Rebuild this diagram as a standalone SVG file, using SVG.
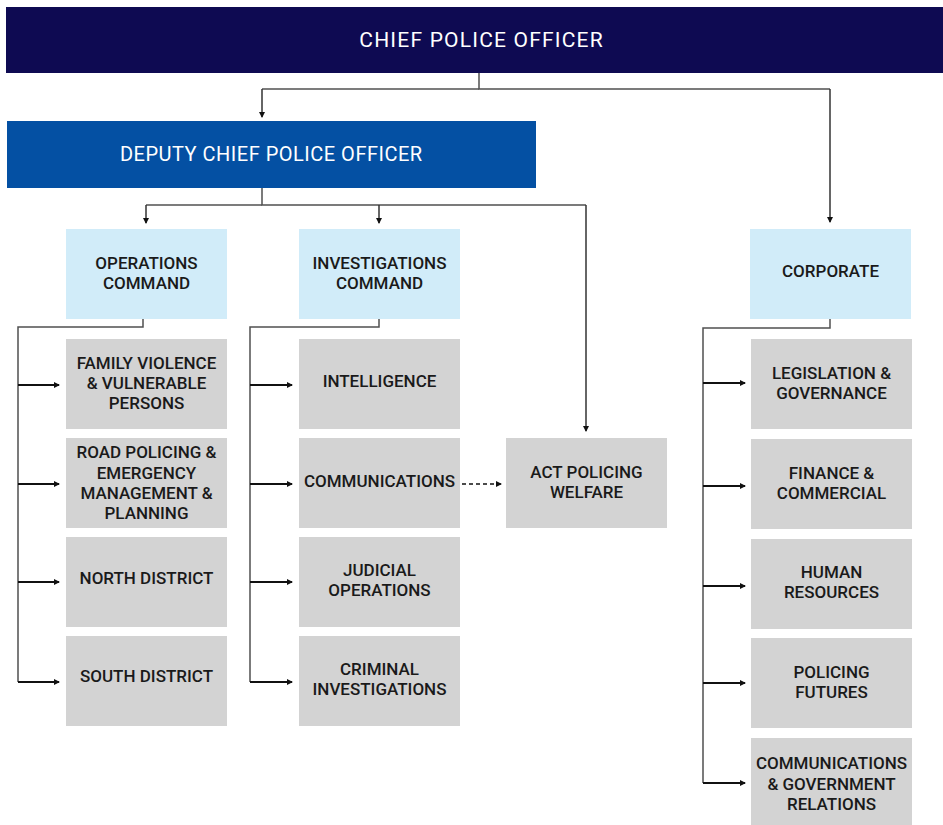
<svg xmlns="http://www.w3.org/2000/svg" width="943" height="825" viewBox="0 0 943 825">
  <style>
    .lbl { font-family: Roboto, "Liberation Sans", sans-serif; font-size: 17px; font-weight: 500; fill: #1a1a1a; text-anchor: middle; }
    .head { font-family: Roboto, "Liberation Sans", sans-serif; font-weight: 400; fill: #ffffff; text-anchor: middle; }
    .cmd { fill: #d1ecf9; }
    .unit { fill: #d3d3d3; }
    .trunk { fill: none; stroke: #505050; stroke-width: 1.5; }
    .stub { fill: none; stroke: #111111; stroke-width: 2; marker-end: url(#tip); }
    .drop { fill: none; stroke: #333333; stroke-width: 1.5; marker-end: url(#tip); }
    .dash { fill: none; stroke: #111111; stroke-width: 1.5; stroke-dasharray: 4 3; marker-end: url(#tip); }
  </style>
  <defs>
    <marker id="tip" viewBox="0 0 6 6" refX="5" refY="3" markerWidth="6" markerHeight="6" markerUnits="userSpaceOnUse" orient="auto">
      <path d="M0,0 L6,3 L0,6 z" fill="#111111"/>
    </marker>
  </defs>

  <rect width="943" height="825" fill="#ffffff"/>

  <!-- connectors -->
  <g id="connectors">
    <!-- chief to deputy and corporate -->
    <path class="trunk" d="M479,73 V89 H830"/>
    <path class="trunk" d="M479,89 H262"/>
    <path class="drop" d="M262,89 V117"/>
    <path class="drop" d="M830,89 V222"/>
    <!-- deputy to commands and welfare -->
    <path class="trunk" d="M262,188 V205 H586"/>
    <path class="trunk" d="M262,205 H146"/>
    <path class="drop" d="M146,205 V223"/>
    <path class="drop" d="M379,205 V223"/>
    <path class="drop" d="M586,205 V431"/>
    <!-- operations command -->
    <path class="trunk" d="M143,319 V327 H18 V682"/>
    <path class="stub" d="M18,385 H59"/>
    <path class="stub" d="M18,484 H59"/>
    <path class="stub" d="M18,582 H59"/>
    <path class="stub" d="M18,682 H59"/>
    <!-- investigations command -->
    <path class="trunk" d="M379,319 V327 H250 V682"/>
    <path class="stub" d="M250,385 H292"/>
    <path class="stub" d="M250,484 H292"/>
    <path class="stub" d="M250,582 H292"/>
    <path class="stub" d="M250,682 H292"/>
    <!-- corporate -->
    <path class="trunk" d="M830,319 V328 H703 V783"/>
    <path class="stub" d="M703,383 H745"/>
    <path class="stub" d="M703,486 H745"/>
    <path class="stub" d="M703,586 H745"/>
    <path class="stub" d="M703,683 H745"/>
    <path class="stub" d="M703,783 H745"/>
    <!-- dotted link communications to welfare -->
    <path class="dash" d="M462,484 H501"/>
  </g>

  <g id="chief">
    <rect x="6" y="7" width="937" height="66" fill="#0e0a52"/>
    <text class="head" x="481.6" y="47" font-size="21" letter-spacing="1.2">CHIEF POLICE OFFICER</text>
  </g>

  <g id="deputy">
    <rect x="7" y="121" width="529" height="67" fill="#0450a3"/>
    <text class="head" x="271.3" y="161" font-size="20" letter-spacing="0.5">DEPUTY CHIEF POLICE OFFICER</text>
  </g>

  <g id="operations">
    <rect class="cmd" x="66" y="229" width="161" height="90"/>
    <text class="lbl" x="146.5" y="269">OPERATIONS</text>
    <text class="lbl" x="146.5" y="289">COMMAND</text>
  </g>

  <g id="investigations">
    <rect class="cmd" x="299" y="229" width="161" height="90"/>
    <text class="lbl" x="379.5" y="269">INVESTIGATIONS</text>
    <text class="lbl" x="379.5" y="289">COMMAND</text>
  </g>

  <g id="corporate">
    <rect class="cmd" x="750" y="229" width="161" height="90"/>
    <text class="lbl" x="830.5" y="277">CORPORATE</text>
  </g>

  <!-- operations units -->
  <g id="family-violence">
    <rect class="unit" x="66" y="339" width="161" height="90"/>
    <text class="lbl" x="146.5" y="369">FAMILY VIOLENCE</text>
    <text class="lbl" x="146.5" y="389">&amp; VULNERABLE</text>
    <text class="lbl" x="146.5" y="409">PERSONS</text>
  </g>
  <g id="road-policing">
    <rect class="unit" x="66" y="438" width="161" height="90"/>
    <text class="lbl" x="146.5" y="458">ROAD POLICING &amp;</text>
    <text class="lbl" x="146.5" y="479">EMERGENCY</text>
    <text class="lbl" x="146.5" y="499">MANAGEMENT &amp;</text>
    <text class="lbl" x="146.5" y="519">PLANNING</text>
  </g>
  <g id="north-district">
    <rect class="unit" x="66" y="537" width="161" height="90"/>
    <text class="lbl" x="146.5" y="584">NORTH DISTRICT</text>
  </g>
  <g id="south-district">
    <rect class="unit" x="66" y="636" width="161" height="90"/>
    <text class="lbl" x="146.5" y="682">SOUTH DISTRICT</text>
  </g>

  <!-- investigations units -->
  <g id="intelligence">
    <rect class="unit" x="299" y="339" width="161" height="90"/>
    <text class="lbl" x="379.5" y="387">INTELLIGENCE</text>
  </g>
  <g id="communications">
    <rect class="unit" x="299" y="438" width="161" height="90"/>
    <text class="lbl" x="379.5" y="487">COMMUNICATIONS</text>
  </g>
  <g id="judicial-operations">
    <rect class="unit" x="299" y="537" width="161" height="90"/>
    <text class="lbl" x="379.5" y="576">JUDICIAL</text>
    <text class="lbl" x="379.5" y="596">OPERATIONS</text>
  </g>
  <g id="criminal-investigations">
    <rect class="unit" x="299" y="636" width="161" height="90"/>
    <text class="lbl" x="379.5" y="675">CRIMINAL</text>
    <text class="lbl" x="379.5" y="695">INVESTIGATIONS</text>
  </g>

  <g id="act-policing-welfare">
    <rect class="unit" x="506" y="438" width="161" height="90"/>
    <text class="lbl" x="586.5" y="478">ACT POLICING</text>
    <text class="lbl" x="586.5" y="498">WELFARE</text>
  </g>

  <!-- corporate units -->
  <g id="legislation">
    <rect class="unit" x="751" y="339" width="161" height="90"/>
    <text class="lbl" x="831.5" y="379">LEGISLATION &amp;</text>
    <text class="lbl" x="831.5" y="399">GOVERNANCE</text>
  </g>
  <g id="finance">
    <rect class="unit" x="751" y="439" width="161" height="90"/>
    <text class="lbl" x="831.5" y="479">FINANCE &amp;</text>
    <text class="lbl" x="831.5" y="499">COMMERCIAL</text>
  </g>
  <g id="human-resources">
    <rect class="unit" x="751" y="539" width="161" height="90"/>
    <text class="lbl" x="831.5" y="578">HUMAN</text>
    <text class="lbl" x="831.5" y="598">RESOURCES</text>
  </g>
  <g id="policing-futures">
    <rect class="unit" x="751" y="638" width="161" height="90"/>
    <text class="lbl" x="831.5" y="678">POLICING</text>
    <text class="lbl" x="831.5" y="698">FUTURES</text>
  </g>
  <g id="comms-government">
    <rect class="unit" x="751" y="738" width="161" height="90"/>
    <text class="lbl" x="831.5" y="769">COMMUNICATIONS</text>
    <text class="lbl" x="831.5" y="790">&amp; GOVERNMENT</text>
    <text class="lbl" x="831.5" y="810">RELATIONS</text>
  </g>
</svg>
